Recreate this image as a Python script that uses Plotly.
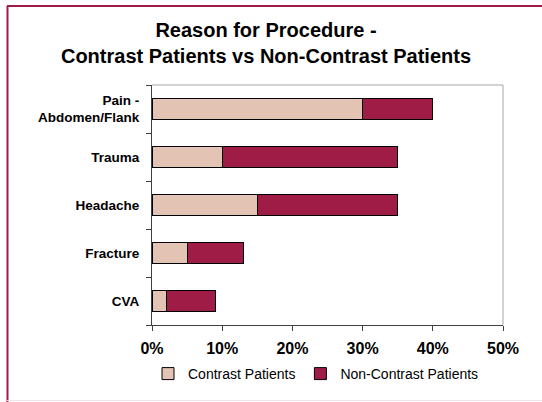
import plotly.graph_objects as go

# Share of patients by reason for procedure (%)
reasons = ["CVA", "Fracture", "Headache", "Trauma", "Pain -<br>Abdomen/Flank"]
contrast = [2, 5, 15, 10, 30]
non_contrast = [7, 8, 20, 25, 10]
x_ticks = [0, 10, 20, 30, 40, 50]
x_tick_labels = ["0%", "10%", "20%", "30%", "40%", "50%"]

W, H = 542, 402
L, R, T, B = 152, 39, 85, 77
pw, ph = W - L - R, H - T - B


def px(x):
    return (x - L) / pw


def py(y):
    return (H - B - y) / ph


font = "Liberation Sans, Arial, sans-serif"
maroon = "#9e1c45"

fig = go.Figure()
fig.add_trace(go.Bar(
    y=reasons, x=contrast, orientation="h", name="Contrast Patients",
    marker=dict(color="#e3c3b3", line=dict(color="#000000", width=1)),
))
fig.add_trace(go.Bar(
    y=reasons, x=non_contrast, orientation="h", name="Non-Contrast Patients",
    marker=dict(color=maroon, line=dict(color="#000000", width=1)),
))

shapes = [
    # plot frame (top/right light grey)
    dict(type="line", xref="paper", yref="paper", x0=0, x1=1, y0=1, y1=1,
         line=dict(color="#a6a6a6", width=1)),
    dict(type="line", xref="paper", yref="paper", x0=1, x1=1, y0=0, y1=1,
         line=dict(color="#a6a6a6", width=1)),
    # outer border of the chart
    dict(type="line", xref="paper", yref="paper", x0=px(7.5), x1=px(7.5),
         y0=py(6), y1=py(402), line=dict(color=maroon, width=2)),
    dict(type="line", xref="paper", yref="paper", x0=px(7), x1=px(542),
         y0=py(6), y1=py(6), line=dict(color=maroon, width=2)),
    dict(type="line", xref="paper", yref="paper", x0=px(7), x1=px(542),
         y0=py(400.5), y1=py(400.5), line=dict(color="#efe3e6", width=1)),
]

fig.update_layout(
    barmode="stack",
    bargap=0.58,
    width=W, height=H,
    margin=dict(l=L, r=R, t=T, b=B, pad=0),
    paper_bgcolor="white", plot_bgcolor="white",
    font=dict(family=font, color="#000000"),
    title=dict(
        text="<b>Reason for Procedure -<br>Contrast Patients vs Non-Contrast Patients</b>",
        x=266 / W, xanchor="center", y=(H - 37) / H, yanchor="middle",
        font=dict(size=20, family=font, color="#000000"),
    ),
    xaxis=dict(
        range=[0, 50], tickvals=x_ticks, ticktext=x_tick_labels,
        showgrid=False, zeroline=False, showline=True, linecolor="#404040",
        linewidth=1, ticks="outside", ticklen=5, tickcolor="#404040",
        ticklabelstandoff=4,
        tickfont=dict(size=16, family=font, weight="bold"),
    ),
    yaxis=dict(
        showgrid=False, zeroline=False, showline=True, linecolor="#404040",
        linewidth=1, ticks="outside", ticklen=5, tickcolor="#404040",
        tickson="boundaries", ticklabelstandoff=9,
        tickfont=dict(size=13.5, family=font, weight="bold"),
    ),
    legend=dict(
        orientation="h", x=px(148), xanchor="left", y=py(374), yanchor="middle",
        font=dict(size=14, family=font), itemwidth=30,
        traceorder="normal", bgcolor="rgba(0,0,0,0)",
    ),
    shapes=shapes,
)

fig.write_html(
    "out.html",
    config={"displayModeBar": False},
    post_script="document.body.style.margin = '0';",
)
